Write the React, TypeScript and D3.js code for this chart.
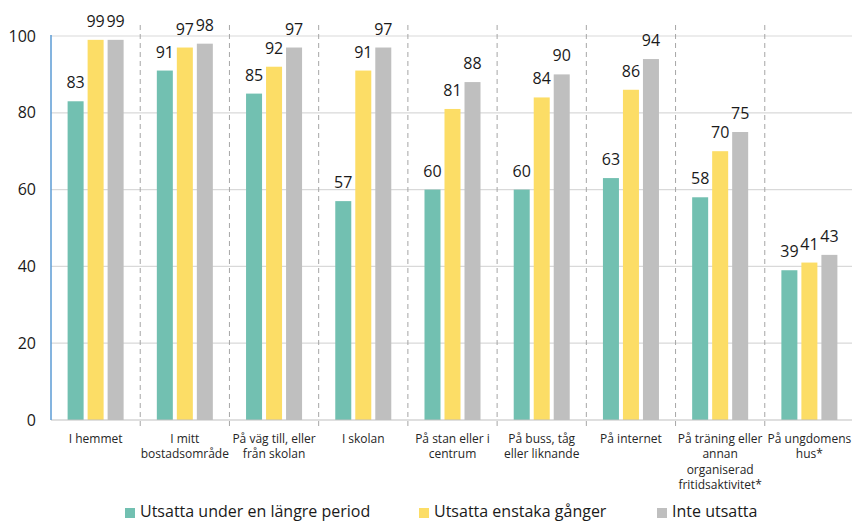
import React from "react";
import * as d3 from "d3";

const categories: string[][] = [
  ["I hemmet"],
  ["I mitt", "bostadsområde"],
  ["På väg till, eller", "från skolan"],
  ["I skolan"],
  ["På stan eller i", "centrum"],
  ["På buss, tåg", "eller liknande"],
  ["På internet"],
  ["På träning eller", "annan", "organiserad", "fritidsaktivitet*"],
  ["På ungdomens", "hus*"],
];
const seriesNames = ["Utsatta under en längre period", "Utsatta enstaka gånger", "Inte utsatta"];
const longPeriod = [83, 91, 85, 57, 60, 60, 63, 58, 39];
const fewTimes = [99, 97, 92, 91, 81, 84, 86, 70, 41];
const notExposed = [99, 98, 97, 97, 88, 90, 94, 75, 43];
const yTicks = [0, 20, 40, 60, 80, 100];

const colors = ["#72C0B1", "#FCDD66", "#BFBFBF"];
const W = 852, H = 522;
const left = 51, right = 854, top = 36, bottom = 420;
const font = "'Open Sans', 'Noto Sans', sans-serif";

export default function App() {
  const series = [longPeriod, fewTimes, notExposed];
  const idx = categories.map((_, i) => i);
  const x0 = d3.scaleBand<number>().domain(idx).range([left, right]).padding(0);
  const x1 = d3.scaleBand<number>().domain([0, 1, 2]).range([0, x0.bandwidth()]).paddingInner(0.2).paddingOuter(0.83);
  const y = d3.scaleLinear().domain([0, 100]).range([bottom, top]);
  const legendX = [125, 419, 657];

  return (
    <svg width={W} height={H} style={{ position: "absolute", left: 0, top: 0, fontFamily: font }}>
      <rect width={W} height={H} fill="#fff" />
      {yTicks.map((t) => (
        <g key={t}>
          {t > 0 && <line x1={left} x2={right} y1={y(t)} y2={y(t)} stroke="#D9D9D9" strokeWidth={1.2} />}
          <text x={36} y={y(t)} dy="0.35em" textAnchor="end" fontSize={16} fill="#1a1a1a">{t}</text>
        </g>
      ))}
      {idx.slice(1).map((i) => (
        <line key={i} x1={x0(i)!} x2={x0(i)!} y1={25} y2={428} stroke="#A6A6A6" strokeWidth={1} strokeDasharray="5,4" />
      ))}
      {series.map((vals, s) =>
        vals.map((v, i) => {
          const bx = x0(i)! + x1(s)!;
          return (
            <g key={`${s}-${i}`}>
              <rect x={bx} y={y(v)} width={x1.bandwidth()} height={bottom - y(v)} fill={colors[s]} />
              <text x={bx + x1.bandwidth() / 2} y={y(v) - 13} textAnchor="middle" fontSize={16} fill="#1a1a1a">{v}</text>
            </g>
          );
        })
      )}
      <line x1={left} x2={right} y1={bottom} y2={bottom} stroke="#BFBFBF" strokeWidth={1.2} />
      <line x1={left} x2={left} y1={top - 1} y2={bottom} stroke="#5B9BD5" strokeWidth={1.5} />
      {categories.map((lines, i) => (
        <text key={i} x={x0(i)! + x0.bandwidth() / 2} y={443} textAnchor="middle" fontSize={12} fill="#262626">
          {lines.map((l, j) => (
            <tspan key={j} x={x0(i)! + x0.bandwidth() / 2} dy={j === 0 ? 0 : 15.3}>{l}</tspan>
          ))}
        </text>
      ))}
      {seriesNames.map((n, s) => (
        <g key={n}>
          <rect x={legendX[s]} y={508} width={10} height={10} fill={colors[s]} />
          <text x={legendX[s] + 15} y={517} fontSize={16} fill="#1a1a1a">{n}</text>
        </g>
      ))}
    </svg>
  );
}
